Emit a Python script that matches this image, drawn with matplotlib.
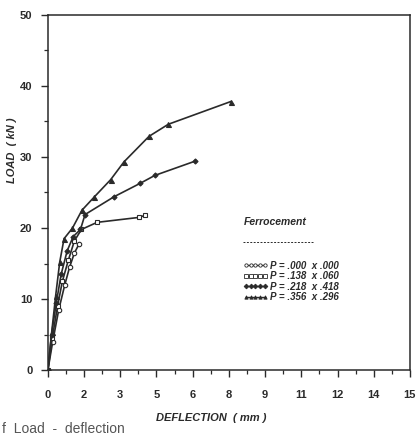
import matplotlib
matplotlib.use("Agg")
import matplotlib.pyplot as plt
from matplotlib.lines import Line2D
from matplotlib.ticker import FixedLocator, MultipleLocator

# ---------------- data ----------------
series_labels = ["P = .000  x .000", "P = .138  x .060", "P = .218  x .418", "P = .356  x .296"]

defl_000 = [0.0, 0.2, 0.45, 0.7, 0.9, 1.1, 1.3]
load_000 = [0.0, 4.0, 8.5, 12.0, 14.5, 16.5, 17.8]

defl_138 = [0.0, 0.18, 0.4, 0.6, 0.85, 1.1, 1.39, 2.04, 3.79, 4.03]
load_138 = [0.0, 4.5, 9.0, 12.5, 15.5, 18.2, 19.8, 20.8, 21.5, 21.8]

defl_218 = [0.0, 0.15, 0.35, 0.55, 0.8, 1.05, 1.35, 1.54, 2.74, 3.83, 4.43, 6.09]
load_218 = [0.0, 5.0, 9.5, 13.5, 16.8, 18.8, 19.8, 21.9, 24.4, 26.3, 27.4, 29.4]

defl_356 = [0.0, 0.16, 0.32, 0.49, 0.67, 1.02, 1.41, 1.93, 2.6, 3.15, 4.19, 4.99, 7.58]
load_356 = [0.0, 5.4, 10.4, 15.2, 18.5, 20.0, 22.5, 24.4, 26.8, 29.3, 32.9, 34.6, 37.8]

x_ticks = [0, 1.5, 3, 4.5, 6, 7.5, 9, 10.5, 12, 13.5, 15]
x_tick_labels = ["0", "2", "3", "5", "6", "8", "9", "11", "12", "14", "15"]
y_ticks = [0, 10, 20, 30, 40, 50]
y_tick_labels = ["0", "10", "20", "30", "40", "50"]

# ---------------- style ----------------
plt.rcParams["font.family"] = ["Liberation Sans Narrow", "Liberation Sans", "DejaVu Sans"]
ink = "#2a2a2a"

fig = plt.figure(figsize=(4.2, 4.36), dpi=100)
ax = fig.add_axes([0.114, 0.151, 0.862, 0.815])

styles = [
    dict(marker="o", mfc="white", ms=3.2),
    dict(marker="s", mfc="white", ms=3.2),
    dict(marker="D", mfc=ink, ms=2.6),
    dict(marker="^", mfc=ink, ms=3.6),
]
xs = [defl_000, defl_138, defl_218, defl_356]
ys = [load_000, load_138, load_218, load_356]
handles = []
for x, y, st in zip(xs, ys, styles):
    ax.plot(x, y, color=ink, lw=1.2, mec=ink, mew=0.8, **st)
    handles.append(Line2D([], [], color=ink, lw=1.0, mec=ink, mew=0.6,
                          marker=st["marker"], mfc=st["mfc"], ms=2.4))

ax.set_xlim(0, 15)
ax.set_ylim(0, 50)
ax.xaxis.set_major_locator(FixedLocator(x_ticks))
ax.set_xticklabels(x_tick_labels)
ax.xaxis.set_minor_locator(MultipleLocator(0.75))
ax.yaxis.set_major_locator(FixedLocator(y_ticks))
ax.set_yticklabels(y_tick_labels)
ax.yaxis.set_minor_locator(MultipleLocator(5))

for s in ax.spines.values():
    s.set_color(ink)
    s.set_linewidth(1.1)

ax.tick_params(axis="both", which="major", direction="out", length=5, width=1.0,
               color=ink, labelsize=8, labelcolor=ink, pad=6)
ax.tick_params(axis="both", which="minor", direction="out", length=3, width=0.9, color=ink)
for lab in ax.get_xticklabels() + ax.get_yticklabels():
    lab.set_fontweight("bold")
ax.tick_params(axis="x", pad=9)

ax.set_xlabel("DEFLECTION  ( mm )", fontsize=8, fontweight="bold", style="italic",
              color=ink)
ax.xaxis.set_label_coords(0.45, -0.12)
ax.set_ylabel("LOAD  ( kN )", fontsize=8, fontweight="bold", style="italic",
              color=ink)
ax.yaxis.set_label_coords(-0.085, 0.62)

# legend
ax.text(0.54, 0.418, "Ferrocement", transform=ax.transAxes, fontsize=7.5,
        fontweight="bold", style="italic", color=ink, ha="left", va="center")
ax.plot([0.54, 0.735], [0.36, 0.36], transform=ax.transAxes, color=ink,
        lw=0.7, ls=(0, (2, 1.5)))
leg = ax.legend(handles, series_labels, loc="upper left", bbox_to_anchor=(0.525, 0.322),
                numpoints=5, handlelength=2.6, handletextpad=0.2, labelspacing=0.05,
                frameon=False, borderpad=0.0,
                prop=dict(size=7, weight="bold", style="italic"))
for t in leg.get_texts():
    t.set_color(ink)

# partial caption at the bottom edge of the scan
fig.text(0.005, 0.0, "f  Load  -  deflection", fontsize=10, color="#555555",
         ha="left", va="bottom")

fig.savefig("out.png", dpi=100)
